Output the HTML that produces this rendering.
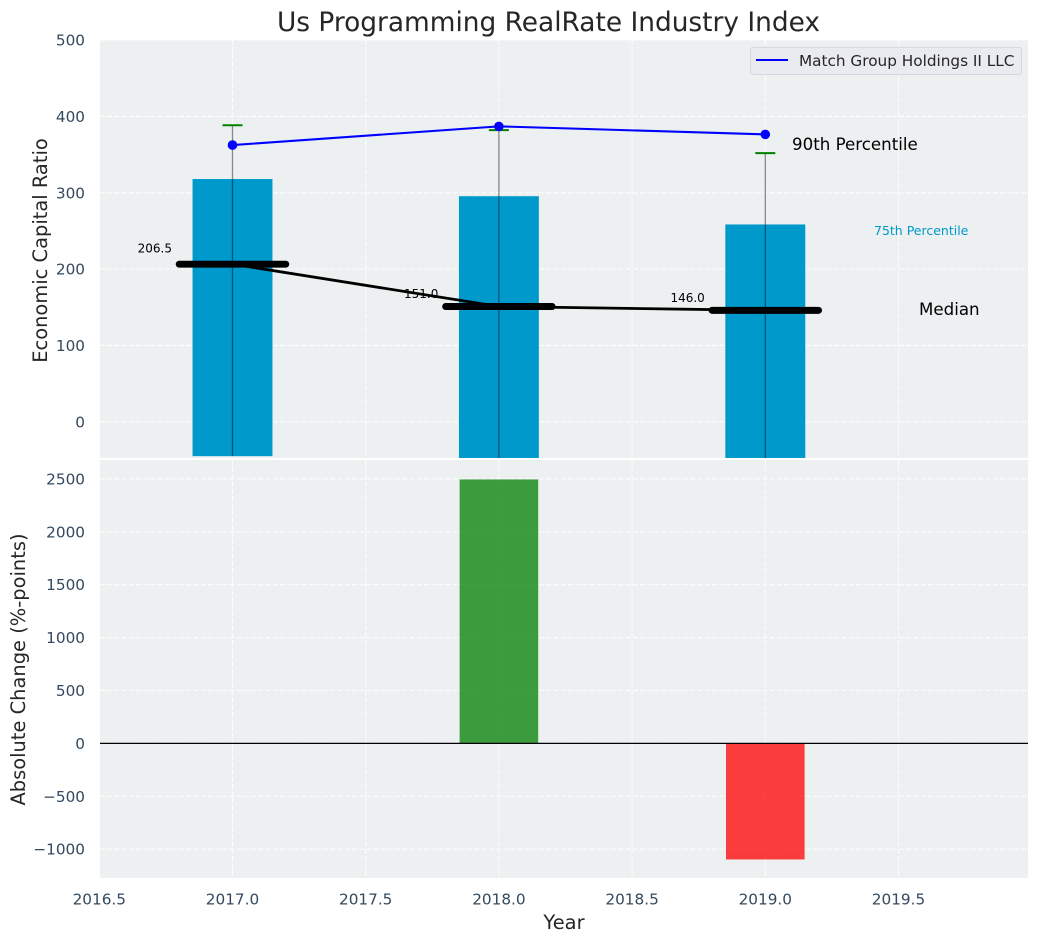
<!DOCTYPE html>
<html lang="en">
<head>
<meta charset="utf-8">
<title>Us Programming RealRate Industry Index</title>
<style>
html,body{margin:0;padding:0;background:#fff;width:1039px;height:942px;overflow:hidden}
svg{display:block;font-family:"DejaVu Sans","Liberation Sans",sans-serif}
</style>
</head>
<body>
<svg id="chart" xmlns="http://www.w3.org/2000/svg" width="1039" height="942" viewBox="0 0 1039 942"></svg>
<script>
// Data
const years = [2017, 2018, 2019];
const p75 = [318, 295.5, 258.5];
const barBase = [-45, -50, -50];
const p90 = [388.5, 382, 352];
const medians = [206.5, 151.0, 146.0];
const companyValues = [362.5, 387, 376.5];
const changeYears = [2018, 2019];
const changeValues = [2495, -1097];
const xTickLabels = ['2016.5', '2017.0', '2017.5', '2018.0', '2018.5', '2019.0', '2019.5'];
const topTickLabels = ['0', '100', '200', '300', '400', '500'];
const bottomTickLabels = ['-1000', '-500', '0', '500', '1000', '1500', '2000', '2500'];

const NS = 'http://www.w3.org/2000/svg';
const svg = document.getElementById('chart');
const L = 100, R = 1028, TT = 40, TB = 458, BT = 460, BB = 878;
const TICK_FONT = 15.28, TICK_COLOR = '#34495e', AXIS_FONT = 19.44;

function x(v) { return 232.5 + (v - 2017) * 266.4; }
function yTop(v) { return 421.8 - v * 0.7634; }
function yBot(v) { return 743.4 - v * 0.1058; }

function make(tag, props, parent) {
  const el = document.createElementNS(NS, tag);
  for (const k in props) el.setAttribute(k, props[k]);
  (parent || svg).appendChild(el);
  return el;
}
function label(el, str) { el.textContent = str; return el; }

const defs = make('defs', {});
const cpT = make('clipPath', { id: 'clip-top' }, defs);
make('rect', { x: L, y: TT, width: R - L, height: TB - TT }, cpT);
const cpB = make('clipPath', { id: 'clip-bot' }, defs);
make('rect', { x: L, y: BT, width: R - L, height: BB - BT }, cpB);

// Panels
const panelTop = make('rect', { x: L, y: TT, width: R - L, height: TB - TT, fill: '#ecf0f1' });


const panelBot = make('rect', { x: L, y: BT, width: R - L, height: BB - BT, fill: '#ecf0f1' });



const gridStyle = { stroke: '#ffffff', 'stroke-width': 1.1, 'stroke-dasharray': '5 2.2', 'stroke-opacity': 0.85, fill: 'none' };

// Grid
xTickLabels.forEach(function (t) {
  const px = x(parseFloat(t));
  const g1 = make('line', Object.assign({ x1: px, x2: px, y1: TT, y2: TB }, gridStyle));
  
  
  const g2 = make('line', Object.assign({ x1: px, x2: px, y1: BT, y2: BB }, gridStyle));
  
  
});
topTickLabels.forEach(function (t) {
  const py = yTop(parseFloat(t));
  const g = make('line', Object.assign({ x1: L, x2: R, y1: py, y2: py }, gridStyle));
  
  
  const tl = label(make('text', { x: 85, y: py + 5.5, 'text-anchor': 'end', 'font-size': TICK_FONT, fill: TICK_COLOR }), t);
  
  
});
bottomTickLabels.forEach(function (t) {
  const v = parseFloat(t);
  const py = yBot(v);
  const g = make('line', Object.assign({ x1: L, x2: R, y1: py, y2: py }, gridStyle));
  
  
  const tl = label(make('text', { x: 85, y: py + 5.5, 'text-anchor': 'end', 'font-size': TICK_FONT, fill: TICK_COLOR }), t.replace('-', '\u2212'));
  
  
});
xTickLabels.forEach(function (t) {
  const tl = label(make('text', { x: x(parseFloat(t)), y: 904.5, 'text-anchor': 'middle', 'font-size': TICK_FONT, fill: TICK_COLOR }), t);
  
  
});

// Top panel marks
const topGroup = make('g', { 'clip-path': 'url(#clip-top)' });



years.forEach(function (yr, i) {
  const top = yTop(p75[i]);
  const bottom = yTop(barBase[i]);
  const bar = make('rect', { x: x(yr - 0.15), y: top, width: x(yr + 0.15) - x(yr - 0.15), height: bottom - top, fill: '#0099cc' }, topGroup);
  
  
});
years.forEach(function (yr, i) {
  const whisker = make('line', { x1: x(yr), x2: x(yr), y1: yTop(p90[i]), y2: yTop(barBase[i]), stroke: '#000', 'stroke-width': 1.3, 'stroke-opacity': 0.45 }, topGroup);
  
  
  const cap = make('line', { x1: x(yr) - 10, x2: x(yr) + 10, y1: yTop(p90[i]), y2: yTop(p90[i]), stroke: '#008000', 'stroke-width': 2 }, topGroup);
  
  
});

const medianLine = make('polyline', {
  points: years.map(function (yr, i) { return x(yr) + ',' + yTop(medians[i]); }).join(' '),
  fill: 'none', stroke: '#000', 'stroke-width': 2.78
}, topGroup);



years.forEach(function (yr, i) {
  const m = make('line', { x1: x(yr - 0.2), x2: x(yr + 0.2), y1: yTop(medians[i]), y2: yTop(medians[i]), stroke: '#000', 'stroke-width': 6.94, 'stroke-linecap': 'round' }, topGroup);
  
  
  const t = label(make('text', { x: x(yr) - 60.5, y: yTop(medians[i] * 1.075), 'text-anchor': 'end', 'font-size': 12, fill: '#000' }, topGroup), medians[i].toFixed(1));
  
  
});

const companyLine = make('polyline', {
  points: years.map(function (yr, i) { return x(yr) + ',' + yTop(companyValues[i]); }).join(' '),
  fill: 'none', stroke: '#0000ff', 'stroke-width': 2.08
}, topGroup);


years.forEach(function (yr, i) {
  const pt = make('circle', { cx: x(yr), cy: yTop(companyValues[i]), r: 4.8, fill: '#0000ff' }, topGroup);
  
  
});

// Annotations
const a90 = label(make('text', { x: 792, y: 150, 'font-size': 16.67, fill: '#000' }), '90th Percentile');


const a75 = label(make('text', { x: 874, y: 235, 'font-size': 12.5, fill: '#0099cc' }), '75th Percentile');


const aMed = label(make('text', { x: 919, y: 315, 'font-size': 16.67, fill: '#000' }), 'Median');



// Legend
const legend = make('g', {});


const legBox = make('rect', { x: 750.5, y: 47.5, width: 271, height: 27, rx: 2.5, fill: '#eaebf1', stroke: '#d5d8dc', 'stroke-width': 1 }, legend);


const legLine = make('line', { x1: 756, x2: 788, y1: 60, y2: 60, stroke: '#0000ff', 'stroke-width': 2 }, legend);


const legText = label(make('text', { x: 799, y: 66, 'font-size': TICK_FONT, fill: '#262626' }, legend), 'Match Group Holdings II LLC');



// Bottom panel marks
const botGroup = make('g', { 'clip-path': 'url(#clip-bot)' });


changeYears.forEach(function (yr, i) {
  const v = changeValues[i];
  const y0 = yBot(Math.max(v, 0));
  const y1 = yBot(Math.min(v, 0));
  const b = make('rect', { x: x(yr - 0.1475), y: y0, width: x(yr + 0.1475) - x(yr - 0.1475), height: y1 - y0, fill: v >= 0 ? '#008000' : '#ff0000', 'fill-opacity': 0.75 }, botGroup);
  
  
});
const zero = make('line', { x1: L, x2: R, y1: yBot(0), y2: yBot(0), stroke: '#000', 'stroke-width': 1.3 }, botGroup);



// Titles
const title = label(make('text', { x: 548.5, y: 31, 'text-anchor': 'middle', 'font-size': 26.4, fill: '#262626' }), 'Us Programming RealRate Industry Index');


const yt1 = label(make('text', { transform: 'translate(47,250.5) rotate(-90)', 'text-anchor': 'middle', 'font-size': AXIS_FONT, fill: '#262626' }), 'Economic Capital Ratio');


const yt2 = label(make('text', { transform: 'translate(25,669.5) rotate(-90)', 'text-anchor': 'middle', 'font-size': AXIS_FONT, fill: '#262626' }), 'Absolute Change (%-points)');


const xt = label(make('text', { x: 564, y: 929, 'text-anchor': 'middle', 'font-size': AXIS_FONT, fill: '#262626' }), 'Year');


</script>
</body>
</html>
